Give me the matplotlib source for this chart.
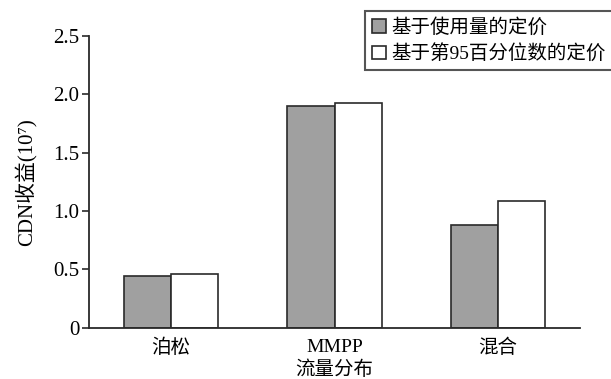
import matplotlib
matplotlib.use("Agg")
import matplotlib.pyplot as plt
import numpy as np

plt.rcParams['font.family'] = ['Liberation Serif', 'Noto Sans CJK SC', 'DejaVu Sans']

categories = ['泊松', 'MMPP', '混合']
usage_pricing = [0.44, 1.90, 0.88]
p95_pricing = [0.46, 1.93, 1.09]
series_labels = ['基于使用量的定价', '基于第95百分位数的定价']
y_ticks = [0, 0.5, 1.0, 1.5, 2.0, 2.5]
y_tick_labels = ['0', '0.5', '1.0', '1.5', '2.0', '2.5']

fig = plt.figure(figsize=(6.11, 3.79), dpi=100)
ax = fig.add_axes([0.146, 0.135, 0.803, 0.770])

x = np.arange(len(categories))
w = 0.29
edge = '#2a2a2a'
ax.bar(x - w / 2, usage_pricing, w, color='#a0a0a0', edgecolor=edge, linewidth=1.2, label=series_labels[0])
ax.bar(x + w / 2, p95_pricing, w, color='white', edgecolor=edge, linewidth=1.2, label=series_labels[1])

ax.set_xlim(-0.5, 2.5)
ax.set_ylim(0, 2.5)
ax.set_yticks(y_ticks)
ax.set_yticklabels(y_tick_labels, fontsize=15)
ax.set_xticks(x)
ax.set_xticklabels(categories, fontsize=14)
ax.tick_params(axis='x', length=0, pad=8)
ax.tick_params(axis='y', direction='out', length=5, width=1.2, color=edge, pad=2)

for side in ('top', 'right'):
    ax.spines[side].set_visible(False)
for side in ('left', 'bottom'):
    ax.spines[side].set_linewidth(1.3)
    ax.spines[side].set_color(edge)

ax.set_ylabel('CDN收益(10⁷)', fontsize=15, labelpad=11)
ax.set_xlabel('流量分布', fontsize=14, labelpad=2)

leg = fig.legend(loc='upper right', bbox_to_anchor=(1.003, 0.97), fontsize=14,
                 frameon=True, fancybox=False, edgecolor=edge, handlelength=0.7,
                 handleheight=0.7, handletextpad=0.3, borderpad=0.35,
                 labelspacing=0.38, borderaxespad=0)
leg.get_frame().set_linewidth(1.5)

fig.savefig('out.png', dpi=100)
